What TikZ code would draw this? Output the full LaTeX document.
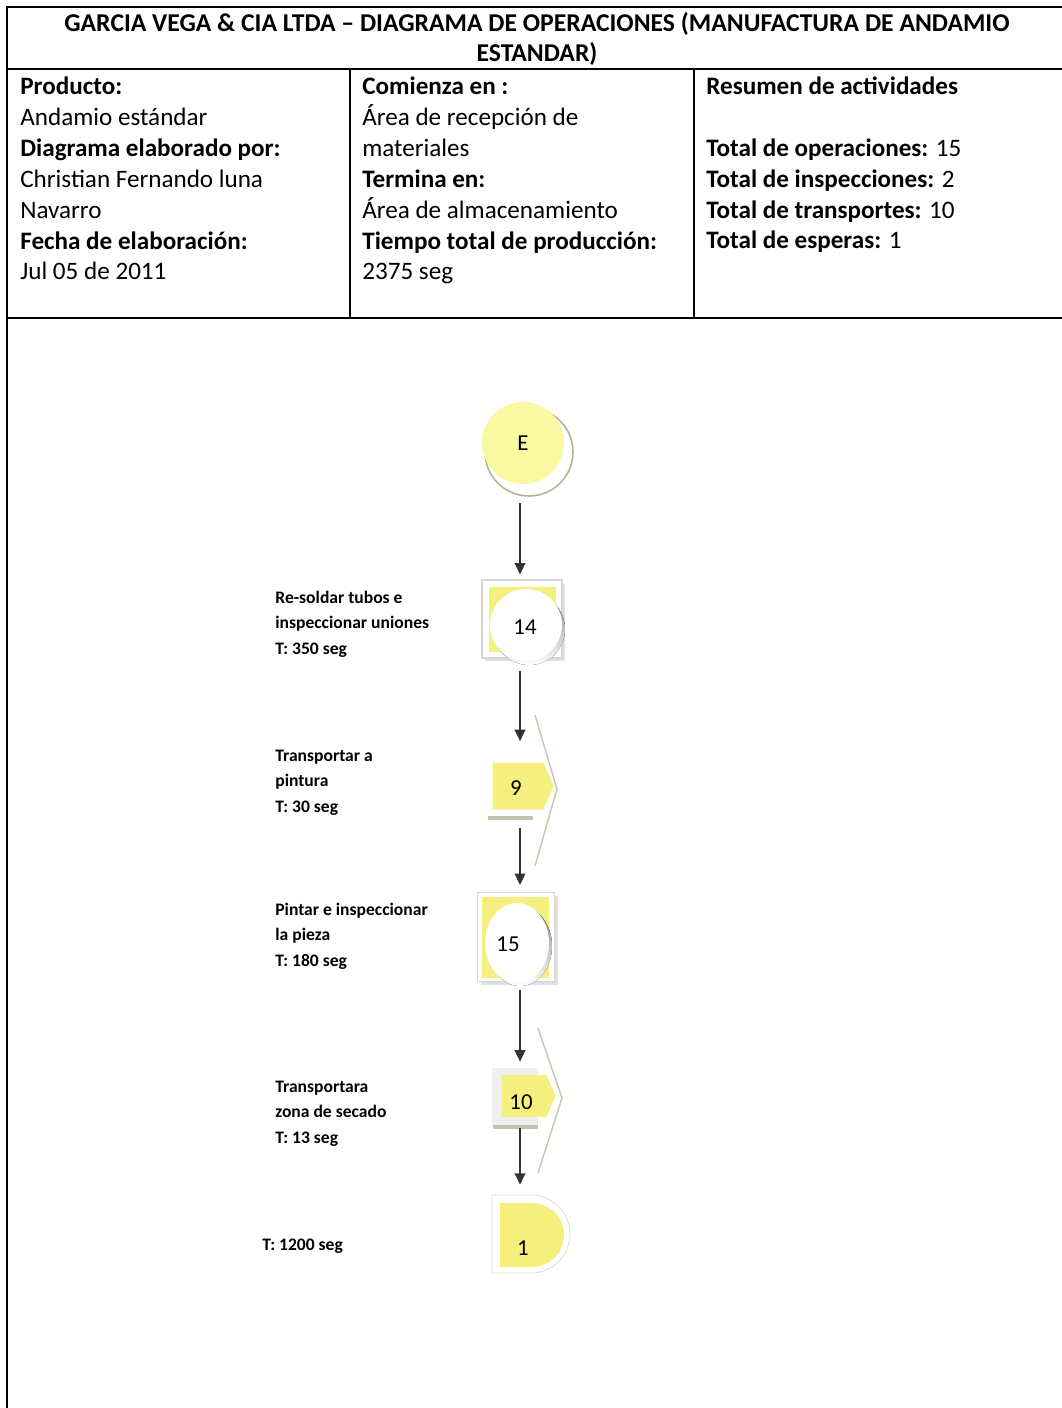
\documentclass[tikz,border=0pt]{standalone}
\usepackage{fontspec}
\setmainfont{Carlito}
\usetikzlibrary{arrows.meta,positioning,shapes.misc,shapes.symbols}
\definecolor{paleyel}{RGB}{250,248,160}
\definecolor{symyel}{RGB}{245,240,125}
\definecolor{shade}{RGB}{178,182,150}
\definecolor{chevc}{RGB}{196,200,172}
\definecolor{boxline}{RGB}{215,215,210}

\tikzset{
  grid/.style={line width=0.8pt},
  head/.style={font=\fontsize{14.3}{17.6}\selectfont,align=left,anchor=base west,inner sep=0pt},
  title/.style={font=\bfseries\fontsize{14.6}{17.6}\selectfont,align=center,anchor=base,inner sep=0pt},
  note/.style={font=\bfseries\fontsize{10}{14.5}\selectfont,align=left,anchor=base west,inner sep=0pt},
  num/.style={font=\fontsize{13}{15}\selectfont,inner sep=0pt},
  flow/.style={draw=black!80,line width=1.1pt,-{Triangle[length=6.5pt,width=6pt]}},
  startc/.style={circle,fill=paleyel,minimum size=1.64cm,inner sep=0pt,font=\fontsize{13}{15}\selectfont},
  opbox/.style={rectangle,draw=boxline,fill=white,line width=0.6pt,inner sep=0pt},
  move/.style={signal,signal to=east,signal pointer angle=134,fill=symyel,inner sep=0pt},
  store/.style={rounded rectangle,rounded rectangle west arc=none,inner sep=0pt},
  chevron/.style={draw=chevc,line width=0.8pt},
  bar/.style={draw=shade!80,line width=2pt}
}

\begin{document}
\begin{tikzpicture}[x=0.02cm,y=-0.02cm]
  \useasboundingbox (0,0) rectangle (1061,1408);
  % table frame (multi-line nodes sit on their last baseline)
  \draw[grid] (7,7) rectangle (1068,1420);
  \draw[grid] (7,69) -- (1068,69);
  \draw[grid] (7,318) -- (1068,318);
  \draw[grid] (350,69) -- (350,318);
  \draw[grid] (694,69) -- (694,318);
  \node[title] (title) at (537,62) {GARCIA VEGA \& CIA LTDA -- DIAGRAMA DE OPERACIONES (MANUFACTURA DE ANDAMIO\\ESTANDAR)};
  \node[head] (prod) at (20,280) {\textbf{Producto:}\\Andamio estándar\\\textbf{Diagrama elaborado por:}\\Christian Fernando luna\\Navarro\\\textbf{Fecha de elaboración:}\\Jul 05 de 2011};
  \node[head] (lugar) at (362,280) {\textbf{Comienza en :}\\Área de recepción de\\materiales\\\textbf{Termina en:}\\Área de almacenamiento\\\textbf{Tiempo total de producción:}\\2375 seg};
  \node[head] (resumen) at (706,249) {\textbf{Resumen de actividades}\\ \\\textbf{Total de operaciones:} 15\\\textbf{Total de inspecciones:} 2\\\textbf{Total de transportes:} 10\\\textbf{Total de esperas:} 1};

  % flow column
  \coordinate (axis) at (520,0);
  \filldraw[fill=white,draw=shade,line width=0.9pt] (529,452) circle (44);
  \node[startc] (E) at (523,443) {E};

  \fill[black!12] (485,584) rectangle (565,661);
  \node[opbox,minimum width=1.6cm,minimum height=1.56cm] (op14) at (522,619) {};
  \fill[symyel] (489,587) rectangle (556,652);
  \fill[shade] (529,629) circle (36);
  \fill[white] (526,625) circle (36);
  \node[num] (n14) at (525,627) {14};

  \draw[chevron] (535,715) -- (557,789) -- (535,866);
  \node[move,minimum width=1.22cm,minimum height=0.94cm] (tr9) at (518,786) {};
  \node[num] (n9) at (516,788) {9};
  \draw[bar] (488,818) -- (533,818);

  \fill[black!12] (481,896) rectangle (558,985);
  \node[opbox,minimum width=1.54cm,minimum height=1.78cm] (op15) at (516,937) {};
  \fill[symyel] (482,897) rectangle (549,978);
  \fill[shade] (520,946) ellipse (32 and 40);
  \fill[white] (517,943) ellipse (32 and 40);
  \node[num] (n15) at (508,944) {15};

  \draw[chevron] (538,1028) -- (562,1098) -- (538,1173);
  \fill[black!6] (492,1068) rectangle (538,1127);
  \draw[bar] (493,1127) -- (538,1127);
  \node[move,minimum width=1.08cm,minimum height=0.84cm] (tr10) at (524,1096) {};
  \node[num] (n10) at (521,1102) {10};

  \node[store,fill=white,draw=boxline,minimum width=1.54cm,minimum height=1.56cm] (st1w) at (531,1234) {};
  \node[store,fill=symyel,minimum width=1.18cm,minimum height=1.28cm] (st1) at (532,1235) {};
  \node[num] (n1) at (523,1248) {1};

  \draw[flow,shorten <=0.38cm,shorten >=0.1cm] (E.south -| axis) -- (op14.north -| axis);
  \draw[flow,shorten <=0.24cm,shorten >=0.42cm] (op14.south -| axis) -- (tr9.north -| axis);
  \draw[flow,shorten <=0.36cm,shorten >=0.14cm] (tr9.south -| axis) -- (op15.north -| axis);
  \draw[flow,shorten <=0.16cm,shorten >=0.26cm] (op15.south -| axis) -- (tr10.north -| axis);
  \draw[flow,shorten <=0.22cm,shorten >=0.2cm] (tr10.south -| axis) -- (st1w.north -| axis);

  % activity notes
  \node[note] (l14) at (275,654) {Re-soldar tubos e\\inspeccionar uniones\\T: 350 seg};
  \node[note] (l9) at (275,812) {Transportar a\\pintura\\T: 30 seg};
  \node[note] (l15) at (275,966) {Pintar e inspeccionar\\la pieza\\T: 180 seg};
  \node[note] (l10) at (275,1143) {Transportara\\zona de secado\\T: 13 seg};
  \node[note] (l1) at (262,1250) {T: 1200 seg};
\end{tikzpicture}
\end{document}
